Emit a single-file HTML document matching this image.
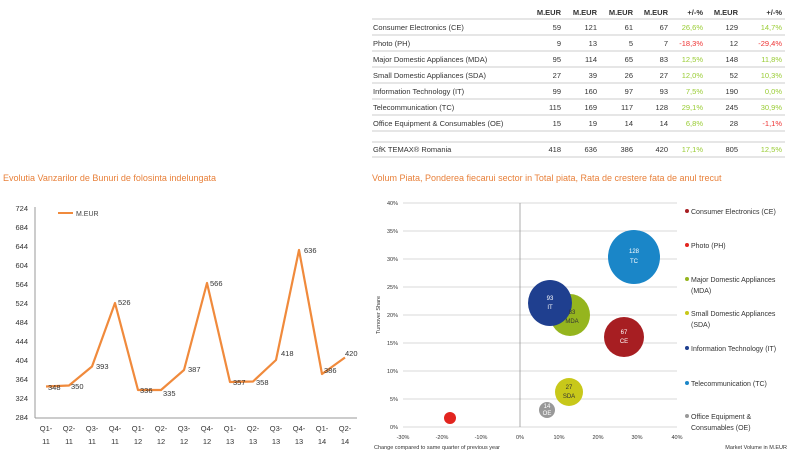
<!DOCTYPE html>
<html><head><meta charset="utf-8"><style>
body{margin:0;width:800px;height:450px;background:#fff;font-family:"Liberation Sans",sans-serif;overflow:hidden}
svg text{font-family:"Liberation Sans",sans-serif}
</style></head><body>
<svg width="800" height="450" viewBox="0 0 800 450">
<!-- table -->
<g font-size="7.5" fill="#333">
<g font-weight="bold" text-anchor="end">
<text x="561" y="15">M.EUR</text><text x="597" y="15">M.EUR</text><text x="633" y="15">M.EUR</text><text x="668" y="15">M.EUR</text><text x="703" y="15">+/-%</text><text x="738" y="15">M.EUR</text><text x="782" y="15">+/-%</text>
</g>
<g stroke="#ccc" stroke-width="1">
<line x1="372" y1="19" x2="785" y2="19"/><line x1="372" y1="35" x2="785" y2="35"/><line x1="372" y1="51" x2="785" y2="51"/><line x1="372" y1="67" x2="785" y2="67"/><line x1="372" y1="83" x2="785" y2="83"/><line x1="372" y1="99" x2="785" y2="99"/><line x1="372" y1="115" x2="785" y2="115"/><line x1="372" y1="131" x2="785" y2="131"/><line x1="372" y1="142" x2="785" y2="142"/><line x1="372" y1="157" x2="785" y2="157"/>
</g>
<g>
<text x="373" y="30">Consumer Electronics (CE)</text>
<text x="373" y="46">Photo (PH)</text>
<text x="373" y="62">Major Domestic Appliances (MDA)</text>
<text x="373" y="78">Small Domestic Appliances (SDA)</text>
<text x="373" y="94">Information Technology (IT)</text>
<text x="373" y="110">Telecommunication (TC)</text>
<text x="373" y="126">Office Equipment &amp; Consumables (OE)</text>
<text x="373" y="152">GfK TEMAX® Romania</text>
</g>
<g text-anchor="end">
<text x="561" y="30">59</text><text x="597" y="30">121</text><text x="633" y="30">61</text><text x="668" y="30">67</text><text x="703" y="30" fill="#9c3">26,6%</text><text x="738" y="30">129</text><text x="782" y="30" fill="#9c3">14,7%</text>
<text x="561" y="46">9</text><text x="597" y="46">13</text><text x="633" y="46">5</text><text x="668" y="46">7</text><text x="703" y="46" fill="#e33">-18,3%</text><text x="738" y="46">12</text><text x="782" y="46" fill="#e33">-29,4%</text>
<text x="561" y="62">95</text><text x="597" y="62">114</text><text x="633" y="62">65</text><text x="668" y="62">83</text><text x="703" y="62" fill="#9c3">12,5%</text><text x="738" y="62">148</text><text x="782" y="62" fill="#9c3">11,8%</text>
<text x="561" y="78">27</text><text x="597" y="78">39</text><text x="633" y="78">26</text><text x="668" y="78">27</text><text x="703" y="78" fill="#9c3">12,0%</text><text x="738" y="78">52</text><text x="782" y="78" fill="#9c3">10,3%</text>
<text x="561" y="94">99</text><text x="597" y="94">160</text><text x="633" y="94">97</text><text x="668" y="94">93</text><text x="703" y="94" fill="#9c3">7,5%</text><text x="738" y="94">190</text><text x="782" y="94" fill="#9c3">0,0%</text>
<text x="561" y="110">115</text><text x="597" y="110">169</text><text x="633" y="110">117</text><text x="668" y="110">128</text><text x="703" y="110" fill="#9c3">29,1%</text><text x="738" y="110">245</text><text x="782" y="110" fill="#9c3">30,9%</text>
<text x="561" y="126">15</text><text x="597" y="126">19</text><text x="633" y="126">14</text><text x="668" y="126">14</text><text x="703" y="126" fill="#9c3">6,8%</text><text x="738" y="126">28</text><text x="782" y="126" fill="#e33">-1,1%</text>
<text x="561" y="152">418</text><text x="597" y="152">636</text><text x="633" y="152">386</text><text x="668" y="152">420</text><text x="703" y="152" fill="#9c3">17,1%</text><text x="738" y="152">805</text><text x="782" y="152" fill="#9c3">12,5%</text>
</g>
</g>

<!-- line chart -->
<text x="3" y="181" font-size="9" fill="#e8803a">Evolutia Vanzarilor de Bunuri de folosinta indelungata</text>
<g font-size="7.5" fill="#333" text-anchor="end">
<text x="28" y="211">724</text><text x="28" y="230">684</text><text x="28" y="249">644</text><text x="28" y="268">604</text><text x="28" y="287">564</text><text x="28" y="306">524</text><text x="28" y="325">484</text><text x="28" y="344">444</text><text x="28" y="363">404</text><text x="28" y="382">364</text><text x="28" y="401">324</text><text x="28" y="420">284</text>
</g>
<line x1="35" y1="207" x2="35" y2="418" stroke="#999"/>
<line x1="35" y1="418" x2="357" y2="418" stroke="#999"/>
<line x1="58" y1="213" x2="73" y2="213" stroke="#f08a3c" stroke-width="2"/>
<text x="76" y="216" font-size="7" fill="#444">M.EUR</text>
<polyline fill="none" stroke="#f08a3c" stroke-width="2.2" stroke-linejoin="round" points="46,386.5 69,385.5 92,366.5 115,303 138,390 161,390 184,370 207,283 230,382 253,381.5 276,360 299,250 322,374 345,357.5"/>
<g font-size="7.5" fill="#333">
<text x="48" y="390">348</text><text x="71" y="389">350</text><text x="96" y="369">393</text><text x="118" y="305">526</text><text x="140" y="393">336</text><text x="163" y="396">335</text><text x="188" y="372">387</text><text x="210" y="286">566</text><text x="233" y="385">357</text><text x="256" y="385">358</text><text x="281" y="356">418</text><text x="304" y="253">636</text><text x="324" y="373">386</text><text x="345" y="356">420</text>
</g>
<g font-size="7.5" fill="#333" text-anchor="middle">
<text x="46" y="431">Q1-</text><text x="46" y="444">11</text>
<text x="69" y="431">Q2-</text><text x="69" y="444">11</text>
<text x="92" y="431">Q3-</text><text x="92" y="444">11</text>
<text x="115" y="431">Q4-</text><text x="115" y="444">11</text>
<text x="138" y="431">Q1-</text><text x="138" y="444">12</text>
<text x="161" y="431">Q2-</text><text x="161" y="444">12</text>
<text x="184" y="431">Q3-</text><text x="184" y="444">12</text>
<text x="207" y="431">Q4-</text><text x="207" y="444">12</text>
<text x="230" y="431">Q1-</text><text x="230" y="444">13</text>
<text x="253" y="431">Q2-</text><text x="253" y="444">13</text>
<text x="276" y="431">Q3-</text><text x="276" y="444">13</text>
<text x="299" y="431">Q4-</text><text x="299" y="444">13</text>
<text x="322" y="431">Q1-</text><text x="322" y="444">14</text>
<text x="345" y="431">Q2-</text><text x="345" y="444">14</text>
</g>

<!-- bubble chart -->
<text x="372" y="181" font-size="9" fill="#e8803a">Volum Piata, Ponderea fiecarui sector in Total piata, Rata de crestere fata de anul trecut</text>
<g stroke="#ccc" stroke-width="0.8">
<line x1="403" y1="203" x2="677" y2="203"/><line x1="403" y1="231" x2="677" y2="231"/><line x1="403" y1="259" x2="677" y2="259"/><line x1="403" y1="287" x2="677" y2="287"/><line x1="403" y1="315" x2="677" y2="315"/><line x1="403" y1="343" x2="677" y2="343"/><line x1="403" y1="371" x2="677" y2="371"/><line x1="403" y1="399" x2="677" y2="399"/><line x1="403" y1="427" x2="677" y2="427"/>
</g>
<line x1="520" y1="203" x2="520" y2="427" stroke="#999" stroke-width="0.8"/>
<g font-size="5.5" fill="#333" text-anchor="end">
<text x="398" y="205">40%</text><text x="398" y="233">35%</text><text x="398" y="261">30%</text><text x="398" y="289">25%</text><text x="398" y="317">20%</text><text x="398" y="345">15%</text><text x="398" y="373">10%</text><text x="398" y="401">5%</text><text x="398" y="429">0%</text>
</g>
<g font-size="5.5" fill="#333" text-anchor="middle">
<text x="403" y="439">-30%</text><text x="442" y="439">-20%</text><text x="481" y="439">-10%</text><text x="520" y="439">0%</text><text x="559" y="439">10%</text><text x="598" y="439">20%</text><text x="637" y="439">30%</text><text x="677" y="439">40%</text>
</g>
<text x="374" y="449" font-size="5.5" fill="#333">Change compared to same quarter of previous year</text>
<text x="787" y="449" font-size="5.5" fill="#333" text-anchor="end">Market Volume in M.EUR</text>
<text transform="translate(380,315) rotate(-90)" font-size="5.5" fill="#333" text-anchor="middle">Turnover Share</text>
<ellipse cx="634" cy="257" rx="26" ry="27" fill="#1a86c8"/>
<ellipse cx="570" cy="315" rx="20" ry="21" fill="#95b51e"/>
<ellipse cx="550" cy="303" rx="22" ry="23" fill="#1f3f8f"/>
<ellipse cx="624" cy="337" rx="20" ry="20" fill="#a71e22"/>
<ellipse cx="569" cy="392" rx="14" ry="14" fill="#c8c81a"/>
<ellipse cx="547" cy="410" rx="8" ry="8" fill="#999"/>
<ellipse cx="450" cy="418" rx="6" ry="6" fill="#e2251f"/>
<g font-size="6" text-anchor="middle" fill="#fff">
<text x="634" y="253">128</text><text x="634" y="263">TC</text>
<text x="550" y="300">93</text><text x="550" y="309">IT</text>
<text x="572" y="314" fill="#333">83</text><text x="572" y="323" fill="#333">MDA</text>
<text x="624" y="334">67</text><text x="624" y="343">CE</text>
<text x="569" y="389" fill="#333">27</text><text x="569" y="398" fill="#333">SDA</text>
<text x="547" y="408">14</text><text x="547" y="415">OE</text>
</g>
<g font-size="7" fill="#333">
<circle cx="687" cy="211" r="2" fill="#a71e22"/><text x="691" y="214">Consumer Electronics (CE)</text>
<circle cx="687" cy="245" r="2" fill="#e2251f"/><text x="691" y="248">Photo (PH)</text>
<circle cx="687" cy="279" r="2" fill="#95b51e"/><text x="691" y="282">Major Domestic Appliances</text><text x="691" y="293">(MDA)</text>
<circle cx="687" cy="313" r="2" fill="#c8c81a"/><text x="691" y="316">Small Domestic Appliances</text><text x="691" y="327">(SDA)</text>
<circle cx="687" cy="348" r="2" fill="#1f3f8f"/><text x="691" y="351">Information Technology (IT)</text>
<circle cx="687" cy="383" r="2" fill="#1a86c8"/><text x="691" y="386">Telecommunication (TC)</text>
<circle cx="687" cy="416" r="2" fill="#999"/><text x="691" y="419">Office Equipment &amp;</text><text x="691" y="430">Consumables (OE)</text>
</g>
</svg>
</body></html>
